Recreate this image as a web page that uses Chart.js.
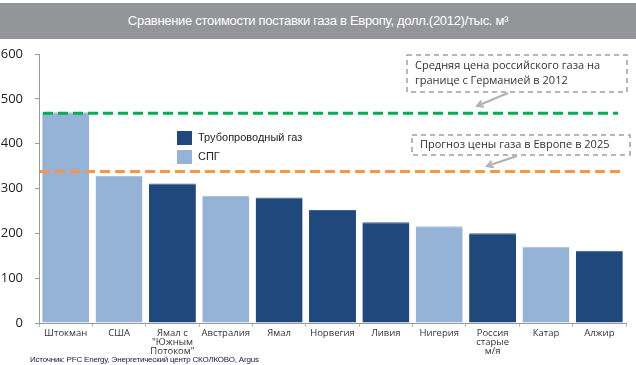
<!DOCTYPE html>
<html>
<head>
<meta charset="utf-8">
<script src="https://cdn.jsdelivr.net/npm/chart.js@4"></script>
<style>
  body { margin: 0; background: #fff; }
  #wrap { position: relative; width: 636px; height: 365px; }
  #title {
    position: absolute; left: 0; top: 3px; width: 636px; height: 36px;
    background: #939598; color: #fff; text-align: center;
    font: 13px "Liberation Sans", Arial, sans-serif; line-height: 36px;
    letter-spacing: -0.3px;
  }
  #source {
    position: absolute; left: 30px; top: 355px;
    font: 8px "Liberation Sans", Arial, sans-serif; color: #1a1a3a; letter-spacing: -0.2px;
  }
  canvas { position: absolute; left: 0; top: 0; }
</style>
</head>
<body>
<div id="wrap">
  <canvas id="gasChart" width="636" height="365"></canvas>
  <div id="title">Сравнение стоимости поставки газа в Европу, долл.(2012)/тыс. м³</div>
  <div id="source">Источник: PFC Energy, Энергетический центр СКОЛКОВО, Argus</div>
</div>
<script>
const categories = ['Штокман', 'США', ['Ямал с', '"Южным', 'Потоком"'], 'Австралия', 'Ямал',
  'Норвегия', 'Ливия', 'Нигерия', ['Россия', 'старые', 'м/я'], 'Катар', 'Алжир'];
const costs = [470, 328, 311, 283, 280, 252, 225, 216, 200, 170, 161];
const gasTypes = ['lng', 'lng', 'pipe', 'lng', 'pipe', 'pipe', 'pipe', 'lng', 'pipe', 'lng', 'pipe'];
const seriesNames = ['Трубопроводный газ', 'СПГ'];
const yTicks = [0, 100, 200, 300, 400, 500, 600];

const refValues = [468, 338];
const refNotes = [
  ['Средняя цена российского газа на', 'границе с Германией в 2012'],
  ['Прогноз цены газа в Европе в 2025']
];

const pipeData = costs.map((v, i) => gasTypes[i] === 'pipe' ? v : null);
const lngData = costs.map((v, i) => gasTypes[i] === 'lng' ? v : null);

const DARK = '#1f497d';
const LIGHT = '#95b3d7';

const overlay = {
  id: 'overlay',
  afterDatasetsDraw(chart) {
    const ctx = chart.ctx;
    const y = chart.scales.y;
    ctx.save();

    // reference lines
    const lines = [
      { v: refValues[0], color: '#00b050', x0: 43, x1: 618 },
      { v: refValues[1], color: '#f79646', x0: 40, x1: 623 }
    ];
    lines.forEach(l => {
      const py = y.getPixelForValue(l.v);
      ctx.strokeStyle = l.color;
      ctx.lineWidth = 3;
      ctx.setLineDash([10, 5]);
      ctx.beginPath();
      ctx.moveTo(l.x0, py);
      ctx.lineTo(l.x1, py);
      ctx.stroke();
    });

    // note boxes
    const boxes = [
      { x: 407, y: 55, w: 220, h: 37, lines: refNotes[0], ax0: 508, ay0: 93, ax1: 477, ay1: 106 },
      { x: 412, y: 135, w: 218, h: 20, lines: refNotes[1], ax0: 517, ay0: 156, ax1: 487, ay1: 166 }
    ];
    ctx.font = '11px "Open Sans", sans-serif';
    ctx.textBaseline = 'middle';
    boxes.forEach(b => {
      ctx.strokeStyle = '#a0a0a0';
      ctx.lineWidth = 1.5;
      ctx.setLineDash([5, 4]);
      ctx.strokeRect(b.x, b.y, b.w, b.h);
      ctx.setLineDash([]);
      ctx.fillStyle = '#333';
      b.lines.forEach((t, i) => {
        ctx.fillText(t, b.x + 8, b.y + 11 + i * 15 + (b.lines.length === 1 ? -1 : 0));
      });
      // arrow
      ctx.strokeStyle = '#b0b0b0';
      ctx.lineWidth = 2;
      ctx.beginPath();
      ctx.moveTo(b.ax0, b.ay0);
      ctx.lineTo(b.ax1, b.ay1);
      ctx.stroke();
      const ang = Math.atan2(b.ay1 - b.ay0, b.ax1 - b.ax0);
      ctx.beginPath();
      ctx.moveTo(b.ax1 - 7 * Math.cos(ang - 0.5), b.ay1 - 7 * Math.sin(ang - 0.5));
      ctx.lineTo(b.ax1, b.ay1);
      ctx.lineTo(b.ax1 - 7 * Math.cos(ang + 0.5), b.ay1 - 7 * Math.sin(ang + 0.5));
      ctx.stroke();
    });

    // legend
    ctx.font = '11px "Liberation Sans", Arial, sans-serif';
    [DARK, LIGHT].forEach((c, i) => {
      const ly = 131 + i * 19;
      ctx.fillStyle = c;
      ctx.fillRect(177, ly, 15, 14);
      ctx.fillStyle = '#222';
      ctx.fillText(seriesNames[i], 198, ly + 7);
    });
    ctx.restore();
  }
};

new Chart(document.getElementById('gasChart'), {
  type: 'bar',
  data: {
    labels: categories,
    datasets: [
      { label: seriesNames[0], data: pipeData, backgroundColor: DARK, borderColor: '#3d6494', borderWidth: { top: 1, left: 0, right: 0, bottom: 0 } },
      { label: seriesNames[1], data: lngData, backgroundColor: LIGHT, borderColor: '#a9c2df', borderWidth: { top: 1, left: 0, right: 0, bottom: 0 } }
    ]
  },
  options: {
    responsive: false,
    animation: false,
    layout: { padding: { top: 54, right: 10, left: 0, bottom: 0 } },
    datasets: { bar: { barPercentage: 0.88, categoryPercentage: 1 } },
    plugins: { legend: { display: false }, tooltip: { enabled: false } },
    scales: {
      x: {
        stacked: true,
        afterFit(s) { s.height = 42; },
        border: { color: '#999' },
        grid: { display: true, offset: true, drawOnChartArea: false, drawTicks: true, tickLength: 4, color: '#bbb' },
        ticks: { color: '#333', font: { family: '"Open Sans", sans-serif', size: 9.5, lineHeight: 0.95 }, padding: 2, maxRotation: 0, autoSkip: false }
      },
      y: {
        stacked: true,
        min: 0, max: 600,
        afterFit(s) { s.width = 39; },
        afterBuildTicks(s) { s.ticks = yTicks.map(v => ({ value: v })); },
        border: { color: '#999' },
        grid: { drawOnChartArea: false, drawTicks: true, tickLength: 4, color: '#999' },
        ticks: { color: '#222', font: { family: '"Open Sans", sans-serif', size: 13 }, padding: 12 }
      }
    }
  },
  plugins: [overlay]
});
</script>
</body>
</html>
